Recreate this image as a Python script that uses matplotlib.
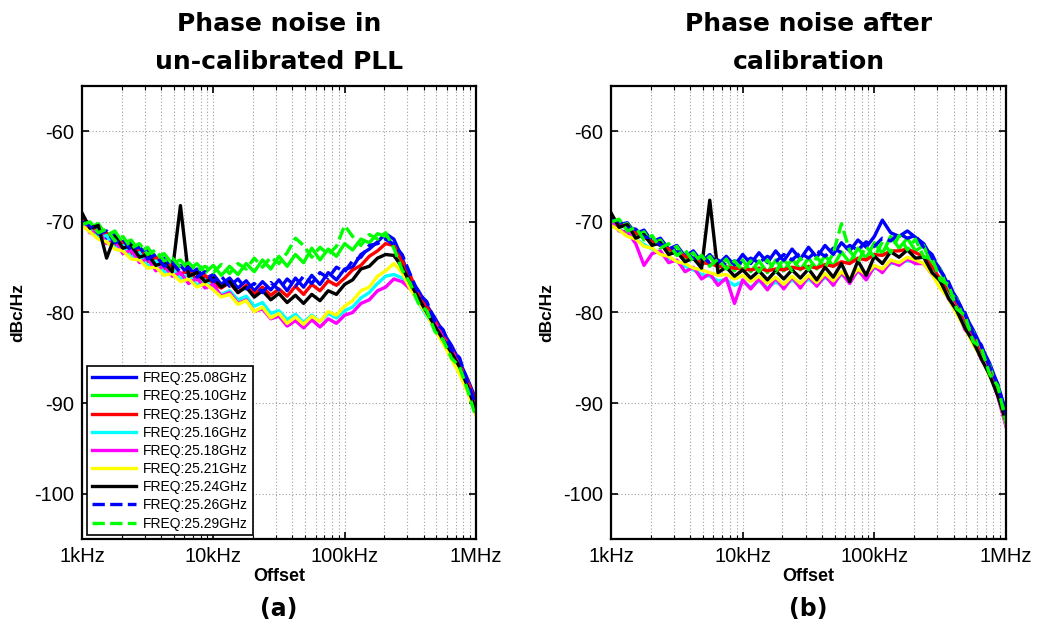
import matplotlib
matplotlib.use("Agg")
import numpy as np
import matplotlib.pyplot as plt
from matplotlib.ticker import LogLocator, NullFormatter

# offset grid, Hz (16 points per decade)
offset_khz = [1.00, 1.15, 1.33, 1.54, 1.78, 2.05, 2.37, 2.74, 3.16, 3.65, 4.22, 4.87, 5.62, 6.49, 7.50, 8.66,
              10.0, 11.5, 13.3, 15.4, 17.8, 20.5, 23.7, 27.4, 31.6, 36.5, 42.2, 48.7, 56.2, 64.9, 75.0, 86.6,
              100, 115, 133, 154, 178, 205, 237, 274, 316, 365, 422, 487, 562, 649, 750, 866,
              1000]
offset = np.array(offset_khz) * 1e3

labels = ["FREQ:25.08GHz", "FREQ:25.10GHz", "FREQ:25.13GHz", "FREQ:25.16GHz", "FREQ:25.18GHz",
          "FREQ:25.21GHz", "FREQ:25.24GHz", "FREQ:25.26GHz", "FREQ:25.29GHz"]

# (a) un-calibrated PLL, dBc/Hz
a_2508 = [-69.2, -70.9, -70.5, -71.8, -71.4, -72.9, -72.3, -73.8, -73.2, -74.6, -74.0, -75.3, -74.8, -75.9, -75.2, -76.3,
          -75.8, -76.9, -76.2, -77.3, -76.5, -77.6, -76.6, -77.5, -76.4, -77.6, -76.2, -77.2, -75.9, -76.9, -75.6, -76.4,
          -75.2, -75.0, -73.6, -73.0, -72.2, -71.3, -71.9, -74.0, -76.3, -77.6, -79.2, -80.6, -82.2, -83.6, -85.4, -87.4,
          -89.6]
a_2510 = [-69.8, -70.6, -70.2, -71.5, -71.0, -72.4, -72.0, -73.3, -72.8, -74.0, -73.5, -74.6, -74.2, -75.3, -74.6, -75.6,
          -74.8, -75.9, -74.9, -75.8, -74.6, -75.5, -74.2, -75.2, -73.8, -74.9, -73.6, -74.5, -72.9, -74.2, -73.0, -73.8,
          -72.4, -73.1, -71.9, -72.3, -71.3, -71.6, -72.6, -74.8, -77.2, -78.6, -80.1, -81.8, -83.2, -84.6, -86.3, -88.2,
          -91.0]
a_2513 = [-69.6, -70.2, -71.6, -71.2, -72.6, -72.2, -73.5, -73.0, -74.4, -73.9, -75.2, -74.7, -75.8, -75.3, -76.4, -75.9,
          -76.8, -77.3, -76.7, -77.8, -77.0, -78.0, -77.2, -78.1, -77.4, -78.2, -77.1, -78.0, -76.9, -77.6, -76.5, -77.0,
          -76.2, -75.3, -74.8, -73.8, -73.2, -72.4, -72.6, -74.3, -75.9, -78.1, -79.4, -80.9, -82.6, -84.0, -85.8, -87.6,
          -90.0]
a_2516 = [-70.1, -70.8, -71.8, -71.5, -72.9, -72.6, -73.9, -73.4, -74.9, -74.3, -75.6, -75.1, -76.3, -75.8, -77.0, -76.4,
          -77.4, -78.0, -77.6, -78.6, -78.2, -79.3, -78.9, -80.1, -79.8, -80.8, -80.2, -81.1, -80.3, -81.0, -80.1, -80.6,
          -79.8, -79.4, -78.4, -77.8, -76.8, -76.0, -75.8, -76.2, -77.3, -78.9, -80.4, -81.6, -83.1, -84.6, -86.2, -88.4,
          -90.8]
a_2518 = [-69.9, -71.2, -71.0, -72.4, -72.0, -73.5, -73.1, -74.5, -74.0, -75.4, -74.8, -76.0, -75.6, -76.8, -76.2, -77.3,
          -76.9, -78.2, -77.8, -79.0, -78.6, -79.9, -79.6, -80.7, -80.4, -81.5, -80.9, -81.7, -80.8, -81.6, -80.7, -81.2,
          -80.3, -80.0, -79.0, -78.6, -77.6, -77.2, -76.3, -76.6, -77.4, -78.4, -80.0, -81.2, -82.8, -84.2, -85.9, -88.0,
          -90.6]
a_2521 = [-70.4, -71.1, -71.9, -72.2, -73.0, -73.2, -74.1, -74.2, -75.1, -75.0, -75.9, -75.7, -76.6, -76.3, -77.2, -76.8,
          -77.5, -78.3, -78.0, -79.1, -78.7, -79.9, -79.4, -80.6, -80.1, -81.2, -80.5, -81.3, -80.4, -81.0, -79.9, -80.3,
          -79.3, -78.7, -77.6, -77.2, -76.0, -75.4, -74.6, -75.6, -77.4, -78.8, -80.2, -81.9, -83.4, -85.1, -86.8, -88.8,
          -91.4]
a_2524 = [-69.0, -70.7, -70.4, -74.0, -71.6, -72.9, -72.6, -73.9, -73.6, -74.8, -74.5, -75.5, -68.2, -76.0, -75.6, -76.6,
          -76.2, -77.2, -76.6, -77.8, -77.2, -78.3, -77.6, -78.6, -77.9, -78.9, -78.1, -79.0, -78.0, -78.7, -77.6, -78.0,
          -76.9, -76.4, -75.2, -74.9, -74.0, -73.6, -73.7, -75.0, -76.8, -78.4, -80.0, -81.5, -83.0, -84.4, -86.0, -88.2,
          -90.9]
a_2526 = [-70.0, -70.4, -71.3, -71.0, -72.3, -71.9, -73.2, -72.7, -74.1, -73.6, -74.9, -74.4, -75.6, -75.0, -76.1, -75.5,
          -76.6, -76.0, -77.1, -76.3, -77.4, -76.8, -77.8, -76.7, -77.5, -76.3, -77.1, -76.0, -76.8, -75.6, -76.2, -75.0,
          -75.5, -74.3, -73.9, -72.6, -72.4, -71.9, -72.5, -73.6, -75.8, -77.9, -78.8, -81.0, -81.9, -84.1, -85.0, -87.8,
          -90.2]
a_2529 = [-70.3, -70.0, -71.2, -70.8, -72.1, -71.6, -72.9, -72.4, -73.6, -73.1, -74.3, -74.0, -75.0, -74.5, -75.4, -74.9,
          -75.6, -74.7, -75.7, -74.6, -75.2, -74.0, -75.0, -73.9, -74.6, -73.4, -71.8, -72.6, -73.9, -72.8, -73.6, -72.7,
          -70.4, -71.6, -72.6, -71.4, -71.9, -71.2, -72.9, -75.3, -76.8, -79.0, -79.8, -82.1, -83.0, -85.0, -86.0, -88.6,
          -91.6]

# (b) after calibration, dBc/Hz
b_2508 = [-69.3, -70.3, -70.1, -71.3, -70.9, -72.2, -71.8, -73.0, -72.6, -73.8, -73.2, -74.4, -73.6, -74.7, -73.8, -74.8,
          -73.6, -74.6, -73.4, -74.5, -73.2, -74.3, -73.0, -74.1, -72.8, -73.9, -72.6, -73.6, -72.3, -73.2, -72.0, -72.8,
          -71.6, -69.8, -71.2, -71.6, -71.0, -71.7, -72.4, -74.0, -75.2, -77.0, -78.4, -80.3, -81.9, -83.8, -85.6, -88.0,
          -91.0]
b_2510 = [-69.2, -70.5, -70.2, -71.6, -71.1, -72.5, -72.0, -73.3, -72.7, -74.1, -73.4, -74.8, -73.8, -75.1, -74.1, -75.4,
          -74.2, -75.5, -74.3, -75.6, -74.2, -75.4, -74.1, -75.3, -74.0, -75.2, -73.7, -74.9, -73.3, -74.5, -72.9, -74.0,
          -72.3, -73.5, -71.6, -72.9, -71.8, -73.2, -72.6, -75.0, -75.2, -77.8, -78.5, -81.3, -82.1, -84.9, -85.8, -88.9,
          -91.4]
b_2513 = [-69.6, -70.2, -70.7, -71.2, -71.7, -72.2, -72.6, -73.0, -73.4, -73.8, -74.1, -74.5, -74.6, -74.9, -75.0, -75.1,
          -75.2, -75.3, -75.1, -75.4, -75.2, -75.3, -75.0, -75.2, -74.9, -75.1, -74.7, -74.9, -74.4, -74.6, -74.0, -74.2,
          -73.6, -73.7, -73.2, -73.2, -73.0, -73.4, -73.8, -75.0, -76.3, -77.8, -79.4, -81.2, -82.9, -84.6, -86.5, -88.7,
          -92.0]
b_2516 = [-70.2, -70.8, -71.4, -71.9, -72.5, -73.0, -73.5, -74.0, -74.4, -74.9, -75.3, -75.8, -76.0, -76.5, -76.4, -77.0,
          -76.6, -77.2, -76.5, -77.3, -76.6, -77.2, -76.4, -77.1, -76.3, -77.0, -76.1, -76.8, -75.8, -76.5, -75.5, -76.0,
          -75.1, -75.3, -74.6, -74.5, -74.3, -74.4, -74.6, -75.5, -76.7, -78.2, -79.8, -81.6, -83.3, -85.0, -86.9, -89.1,
          -92.4]
b_2518 = [-69.9, -71.0, -71.1, -72.4, -74.8, -73.5, -73.2, -74.5, -74.2, -75.5, -75.0, -76.3, -75.7, -77.0, -76.2, -79.0,
          -76.4, -77.4, -76.3, -77.5, -76.2, -77.4, -76.1, -77.3, -76.0, -77.1, -75.9, -77.0, -75.6, -76.8, -75.3, -76.4,
          -74.9, -75.6, -74.4, -74.8, -74.1, -74.6, -74.6, -75.8, -76.5, -78.5, -79.6, -81.9, -83.0, -85.2, -86.6, -89.3,
          -92.6]
b_2521 = [-70.4, -70.9, -71.6, -71.9, -72.7, -72.9, -73.6, -73.8, -74.4, -74.6, -75.1, -75.3, -75.6, -75.9, -75.8, -76.3,
          -75.9, -76.6, -76.0, -76.8, -76.1, -76.9, -76.0, -76.8, -75.9, -76.7, -75.7, -76.5, -75.5, -76.2, -75.2, -75.8,
          -74.8, -75.2, -74.2, -74.5, -73.9, -74.2, -74.6, -75.8, -77.3, -78.4, -80.2, -81.7, -83.5, -85.0, -87.0, -89.0,
          -92.3]
b_2524 = [-69.0, -70.6, -70.3, -71.8, -71.4, -72.6, -72.3, -73.6, -73.3, -74.4, -74.0, -75.1, -67.6, -75.6, -75.0, -76.0,
          -75.3, -76.2, -75.4, -76.4, -75.4, -76.3, -75.3, -76.2, -75.2, -76.4, -75.0, -76.1, -74.6, -76.6, -74.3, -75.9,
          -73.8, -74.6, -73.3, -73.9, -73.1, -74.0, -73.9, -75.6, -76.5, -78.4, -79.8, -81.7, -83.2, -85.1, -86.9, -89.2,
          -92.1]
b_2526 = [-69.8, -69.9, -70.7, -70.8, -71.7, -71.7, -72.6, -72.5, -73.4, -73.2, -74.1, -73.8, -74.5, -74.2, -74.8, -74.3,
          -74.6, -74.0, -74.5, -73.8, -74.4, -73.6, -74.2, -73.4, -74.0, -73.2, -73.8, -72.9, -73.4, -72.6, -73.1, -72.2,
          -72.7, -71.8, -72.1, -71.3, -71.8, -71.5, -72.8, -73.6, -75.4, -76.6, -78.7, -80.0, -82.3, -83.6, -86.0, -87.9,
          -91.3]
b_2529 = [-70.0, -69.7, -71.0, -70.6, -72.0, -71.5, -72.9, -72.4, -73.7, -73.1, -74.4, -73.7, -74.9, -74.1, -75.2, -74.3,
          -75.4, -74.3, -75.5, -74.2, -75.5, -74.1, -75.4, -74.0, -75.3, -73.9, -75.0, -73.5, -70.2, -73.2, -74.4, -72.7,
          -73.9, -72.2, -73.4, -71.5, -73.1, -71.9, -73.9, -74.0, -76.4, -76.9, -79.6, -80.3, -83.2, -83.9, -86.8, -88.1,
          -92.2]

colors = ["#0000ff", "#00ff00", "#ff0000", "#00ffff", "#ff00ff", "#ffff00", "#000000", "#0000ff", "#00ff00"]
styles = ["-", "-", "-", "-", "-", "-", "-", "--", "--"]

panel_a = [a_2508, a_2510, a_2513, a_2516, a_2518, a_2521, a_2524, a_2526, a_2529]
panel_b = [b_2508, b_2510, b_2513, b_2516, b_2518, b_2521, b_2524, b_2526, b_2529]

xticks = [1e3, 1e4, 1e5, 1e6]
xticklabels = ["1kHz", "10kHz", "100kHz", "1MHz"]
yticks = [-100, -90, -80, -70, -60]

fig = plt.figure(figsize=(10.39, 6.24), dpi=100)
ax1 = fig.add_axes([0.0789, 0.1362, 0.3792, 0.7260])
ax2 = fig.add_axes([0.5881, 0.1362, 0.3802, 0.7260])

titles = ["Phase noise in\nun-calibrated PLL", "Phase noise after\ncalibration"]
tags = ["(a)", "(b)"]

for ax, series, title, tag in zip([ax1, ax2], [panel_a, panel_b], titles, tags):
    for vals, c, ls, lab in zip(series, colors, styles, labels):
        ax.plot(offset, vals, color=c, ls=ls, lw=2.4, label=lab)
    ax.set_xscale("log")
    ax.set_xlim(1e3, 1e6)
    ax.set_ylim(-105, -55)
    ax.set_xticks(xticks)
    ax.set_xticklabels(xticklabels, fontsize=14.5, family="Liberation Sans")
    ax.xaxis.set_minor_locator(LogLocator(base=10, subs=np.arange(2, 10)))
    ax.xaxis.set_minor_formatter(NullFormatter())
    ax.set_yticks(yticks)
    ax.set_yticklabels(["%d" % v for v in yticks], fontsize=14.5, family="Liberation Sans")
    ax.tick_params(which="both", direction="in", top=True, right=True)
    ax.tick_params(which="major", length=5, width=1.2, pad=6)
    ax.tick_params(which="minor", length=3, width=0.8)
    ax.grid(True, which="major", color="#a0a0a0", lw=0.8, dashes=(1, 2))
    ax.grid(True, which="minor", axis="x", color="#a0a0a0", lw=0.8, dashes=(1, 2))
    for sp in ax.spines.values():
        sp.set_linewidth(1.6)
    ax.set_title(title, fontsize=18, fontweight="bold", family="DejaVu Sans", pad=12, linespacing=1.75)
    ax.set_ylabel("dBc/Hz", fontsize=12.5, fontweight="bold", family="Liberation Sans", labelpad=6)
    ax.set_xlabel("Offset", fontsize=13, fontweight="bold", family="Liberation Sans", labelpad=1)
    ax.text(0.5, -0.155, tag, transform=ax.transAxes, ha="center", va="center",
            fontsize=17, fontweight="bold", family="DejaVu Sans")

leg = ax1.legend(loc="lower left", bbox_to_anchor=(0.012, 0.008), borderaxespad=0,
                 prop={"family": "Liberation Sans", "size": 10},
                 fancybox=False, framealpha=1, edgecolor="black",
                 handlelength=3.2, labelspacing=0.3, borderpad=0.35, handletextpad=0.5)
leg.get_frame().set_linewidth(1.2)

plt.savefig("out.png", dpi=100)
